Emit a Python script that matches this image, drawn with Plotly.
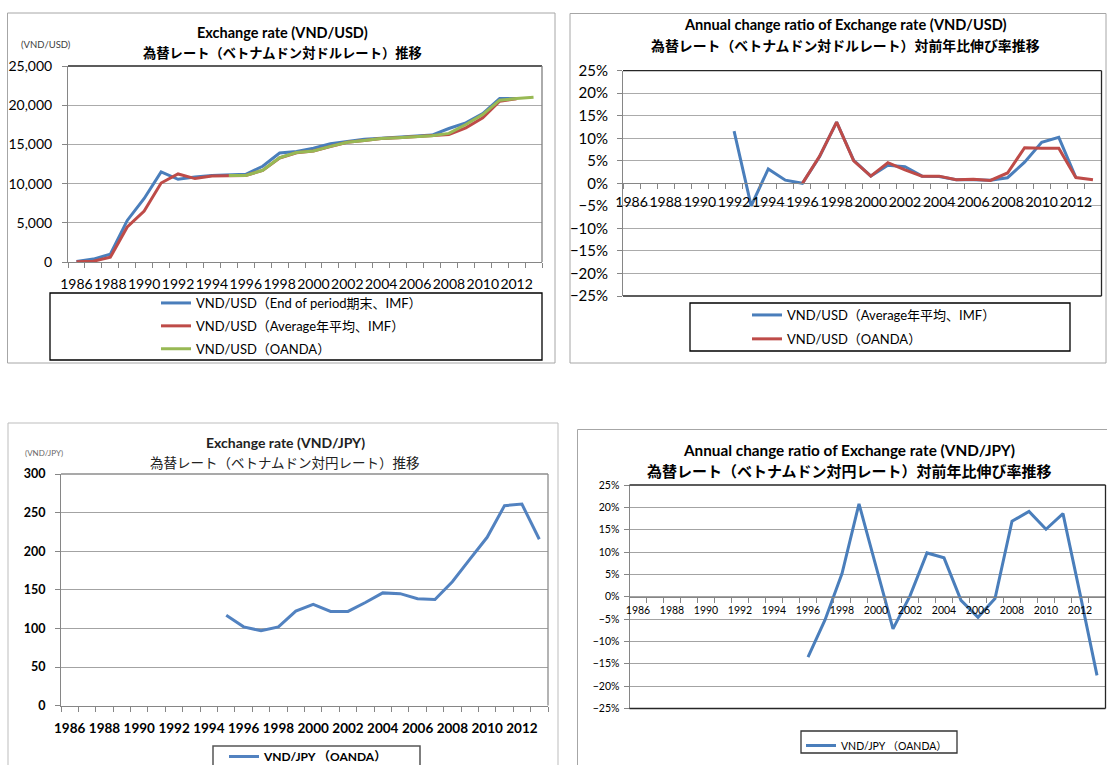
import plotly.graph_objects as go

W, H = 1107, 765

# ---------------- data ----------------
years = list(range(1986, 2014))
label_years = list(range(1986, 2013, 2))

# VND/USD exchange rate levels (1986-2013)
usd_end_imf = [80, 368, 1000, 5300, 8100, 11500, 10550, 10850, 11020, 11060,
               11190, 12210, 13900, 14100, 14500, 15080, 15400, 15650, 15780, 15920,
               16050, 16190, 17030, 17750, 18940, 20850, 20850, None]
usd_avg_imf = [20, 100, 600, 4470, 6500, 10070, 11230, 10640, 10980, 11040,
               11030, 11680, 13270, 13940, 14170, 14730, 15280, 15510, 15750, 15860,
               15990, 16100, 16270, 17120, 18390, 20500, 20830, None]
usd_oanda = [None] * 9 + [11040, 11040, 11700, 13300, 13960, 14170, 14750, 15280,
                          15510, 15750, 15860, 15990, 16100, 16400, 17540, 18800,
                          20640, 20850, 21020]

# Annual change of VND/USD (%)
usd_avg_change_years = list(range(1992, 2013))
usd_avg_change = [11.6, -5.0, 3.2, 0.7, 0.0, 5.9, 13.6, 5.1, 1.6, 4.0, 3.7,
                  1.6, 1.5, 0.8, 0.8, 0.7, 1.25, 4.7, 9.1, 10.2, 1.3]
usd_oanda_change_years = list(range(1996, 2014))
usd_oanda_change = [0.0, 6.0, 13.6, 5.0, 1.6, 4.6, 3.0, 1.6, 1.6, 0.8, 0.9,
                    0.65, 2.3, 7.9, 7.8, 7.8, 1.3, 0.8]

# VND/JPY exchange rate levels (1995-2013)
jpy_years = list(range(1995, 2014))
jpy_oanda = [117, 102, 97, 102, 122.5, 131, 122, 122, 133.5, 146, 145, 138.5,
             137.5, 160.5, 189.5, 218, 259, 261, 215.5]

# Annual change of VND/JPY (%)
jpy_change_years = list(range(1996, 2014))
jpy_change = [-13.5, -5.2, 5.2, 20.8, 6.8, -7.2, 0.2, 9.8, 8.7, -0.8, -4.6,
              -0.4, 16.9, 19.1, 15.1, 18.6, 0.7, -17.6]

# ---------------- styling ----------------
BLUE = "#4a7ebb"
RED = "#be4b48"
GREEN = "#98b954"
GRID = "#ababab"
AXIS = "#868686"
DARK = "#262626"
LW = 3
EN = 'Lato, "Noto Sans CJK JP", sans-serif'
JP = '"Noto Sans CJK JP", sans-serif'


def px(x):
    return x / W


def py(y):
    return 1 - y / H


def xdom(a, b):
    return [px(a), px(b)]


def ydom(top, bottom):
    return [py(bottom), py(top)]


def year_axis(domain, size, standoff, anchor=None, position=None, bold=False):
    ax = dict(
        domain=domain, range=[1985.5, 2013.5],
        tickmode="array", tickvals=label_years,
        ticktext=[str(y) for y in label_years],
        ticks="", tickangle=0, showgrid=False, zeroline=False,
        showline=True, linecolor=AXIS, linewidth=1,
        ticklabelstandoff=standoff,
        tickfont=dict(family=EN, size=size, color="black",
                      weight="bold" if bold else "normal"),
        minor=dict(tickmode="linear", tick0=1985.5, dtick=1, ticks="outside",
                   ticklen=5, tickcolor=AXIS, tickwidth=1, showgrid=False),
        fixedrange=True,
    )
    if position is not None:
        ax["anchor"] = "free"
        ax["position"] = position
    else:
        ax["anchor"] = anchor
    return ax


def value_axis(domain, anchor, rng, dtick, size, standoff, fmt=None, suffix=None,
               bold=False, gridcolor=GRID):
    ax = dict(
        domain=domain, anchor=anchor, range=rng, dtick=dtick, tick0=rng[0],
        showgrid=True, gridcolor=gridcolor, gridwidth=1.4, zeroline=False,
        showline=True, linecolor=AXIS, linewidth=1,
        ticks="outside", ticklen=5, tickcolor=AXIS,
        ticklabelstandoff=standoff,
        tickfont=dict(family=EN, size=size, color="black",
                      weight="bold" if bold else "normal"),
        fixedrange=True,
    )
    if fmt:
        ax["tickformat"] = fmt
    if suffix:
        ax["ticksuffix"] = suffix
    return ax


fig = go.Figure()


def line(x, y, name, color, xa, ya, legend, group):
    fig.add_trace(go.Scatter(x=x, y=y, mode="lines", name=name,
                             line=dict(color=color, width=LW),
                             xaxis=xa, yaxis=ya, legend=legend, legendgroup=group))


# top-left: VND/USD levels
line(years, usd_end_imf, "VND/USD（End of period期末、IMF）", BLUE, "x", "y", "legend", "a1")
line(years, usd_avg_imf, "VND/USD（Average年平均、IMF）", RED, "x", "y", "legend", "a2")
line(years, usd_oanda, "VND/USD（OANDA）", GREEN, "x", "y", "legend", "a3")

# top-right: VND/USD annual change
line(usd_avg_change_years, usd_avg_change, "VND/USD（Average年平均、IMF）", BLUE,
     "x2", "y2", "legend2", "b1")
line(usd_oanda_change_years, usd_oanda_change, "VND/USD（OANDA）", RED,
     "x2", "y2", "legend2", "b2")

# bottom-left: VND/JPY levels
line(jpy_years, jpy_oanda, "VND/JPY （OANDA）", "#5282c0", "x3", "y3", "legend3", "c1")

# bottom-right: VND/JPY annual change
line(jpy_change_years, jpy_change, "VND/JPY （OANDA）", BLUE, "x4", "y4", "legend4", "d1")

# plot areas (pixel boxes)
TL = dict(x=(68, 542), y=(66, 262))
TR = dict(x=(623, 1101.5), y=(70.7, 296))
BL = dict(x=(61, 548), y=(474, 705.6))
BR = dict(x=(629.5, 1105.5), y=(485, 708.5))

layout = dict(
    width=W, height=H, margin=dict(l=0, r=0, t=0, b=0, autoexpand=False),
    paper_bgcolor="white", plot_bgcolor="white",
    showlegend=True,
    xaxis=year_axis(xdom(*TL["x"]), 14, 9, anchor="y"),
    yaxis=value_axis(ydom(*TL["y"]), "x", [0, 25000], 5000, 14, 7, fmt=","),
    xaxis2=year_axis(xdom(*TR["x"]), 14, 6, position=py((TR["y"][0] + TR["y"][1]) / 2)),
    yaxis2=value_axis(ydom(*TR["y"]), "x2", [-25, 25], 5, 15, 6, suffix="%"),
    xaxis3=year_axis(xdom(*BL["x"]), 13.5, 10, anchor="y3", bold=True),
    yaxis3=value_axis(ydom(*BL["y"]), "x3", [0, 300], 50, 12.5, 7, bold=True, gridcolor="#a3a3a3"),
    xaxis4=year_axis(xdom(*BR["x"]), 10.5, 4, position=py((BR["y"][0] + BR["y"][1]) / 2)),
    yaxis4=value_axis(ydom(*BR["y"]), "x4", [-25, 25], 5, 10.5, 2, suffix="%", gridcolor="#a3a3a3"),
)


def legend_at(xl, ytop, size, gap=0, bold=False):
    return dict(x=px(xl), y=py(ytop), xanchor="left", yanchor="top",
                orientation="v", bgcolor="rgba(0,0,0,0)", borderwidth=0,
                itemwidth=30, tracegroupgap=gap, traceorder="grouped",
                font=dict(family=EN, size=size, color="black",
                          weight="bold" if bold else "normal"))


layout["legend"] = legend_at(156, 288, 13, gap=3)
layout["legend2"] = legend_at(747, 300, 13, gap=4)
layout["legend3"] = legend_at(224, 742, 12, bold=True)
layout["legend4"] = legend_at(801, 731, 10.5)

fig.update_layout(**layout)

shapes = []


def rect(x0, y0, x1, y1, color, width=1):
    shapes.append(dict(type="rect", xref="paper", yref="paper",
                       x0=px(x0), x1=px(x1), y0=py(y1), y1=py(y0),
                       line=dict(color=color, width=width), fillcolor="rgba(0,0,0,0)",
                       layer="below"))


def frame_line(xa, ya, x0, y0, x1, y1, color, width=1.3):
    shapes.append(dict(type="line", xref=f"{xa} domain", yref=f"{ya} domain",
                       x0=x0, y0=y0, x1=x1, y1=y1,
                       line=dict(color=color, width=width), layer="above"))


# chart area borders
rect(7.5, 13, 555, 363, "#a6a6a6")
rect(570, 13.5, 1106, 363, "#a6a6a6")
rect(8, 423, 558, 790, "#bdbdbd")
rect(577.5, 429.5, 1130, 790, "#a6a6a6")

# legend boxes
rect(50, 293, 542, 360, "black", 1.3)
rect(690, 303, 1070, 351, "black", 1.3)
rect(213, 746, 420, 790, "#555555", 1.5)
rect(801, 731, 957, 753, "#333333", 1.3)

# plot-area frames
frame_line("x", "y", 0, 1, 1, 1, DARK)
frame_line("x", "y", 1, 0, 1, 1, "#7f7f7f")
frame_line("x2", "y2", 0, 1, 1, 1, DARK)
frame_line("x2", "y2", 1, 0, 1, 1, DARK)
frame_line("x2", "y2", 0, 0, 1, 0, DARK)
frame_line("x3", "y3", 0, 1, 1, 1, "#8c8c8c")
frame_line("x3", "y3", 1, 0, 1, 1, "#8c8c8c")
frame_line("x4", "y4", 0, 1, 1, 1, DARK)
frame_line("x4", "y4", 0, 0, 1, 0, DARK)
frame_line("x4", "y4", 1, 0, 1, 1, DARK)

annotations = []


def text(x, y, s, size, family=EN, bold=False, color="black"):
    annotations.append(dict(xref="paper", yref="paper", x=px(x), y=py(y),
                            xanchor="center", yanchor="middle", showarrow=False,
                            text=s, font=dict(family=family, size=size, color=color,
                                              weight="bold" if bold else "normal")))


text(282, 32.5, "Exchange rate (VND/USD)", 14.5, bold=True)
text(282, 52.5, "為替レート（ベトナムドン対ドルレート）推移", 13.3, family=JP, bold=True)
text(46, 44, "(VND/USD)", 9.5, color="#404040")

text(845, 25, "Annual change ratio of Exchange rate (VND/USD)", 14.6, bold=True)
text(845, 45, "為替レート（ベトナムドン対ドルレート）対前年比伸び率推移", 13.9, family=JP, bold=True)

text(285, 442.5, "Exchange rate (VND/JPY)", 14, bold=True, color="#222222")
text(285, 462, "為替レート（ベトナムドン対円レート）推移", 13.5, family=JP, color="#222222")
text(44, 452.5, "(VND/JPY)", 8, color="#666666")

text(849, 450, "Annual change ratio of Exchange rate (VND/JPY)", 15.3, bold=True)
text(849, 470, "為替レート（ベトナムドン対円レート）対前年比伸び率推移", 15, family=JP, bold=True)

fig.update_layout(shapes=shapes, annotations=annotations)

# the VND/JPY level chart comes from a low-resolution scan: soften that panel slightly
soften = """
var gd = document.getElementById('{plot_id}');
gd.style.position = 'relative';
var veil = document.createElement('div');
veil.style.cssText = 'position:absolute;left:0;top:415px;width:562px;height:350px;' +
  'pointer-events:none;backdrop-filter:blur(0.6px);-webkit-backdrop-filter:blur(0.6px);';
gd.appendChild(veil);
"""

fig.write_html("out.html", post_script=soften)
